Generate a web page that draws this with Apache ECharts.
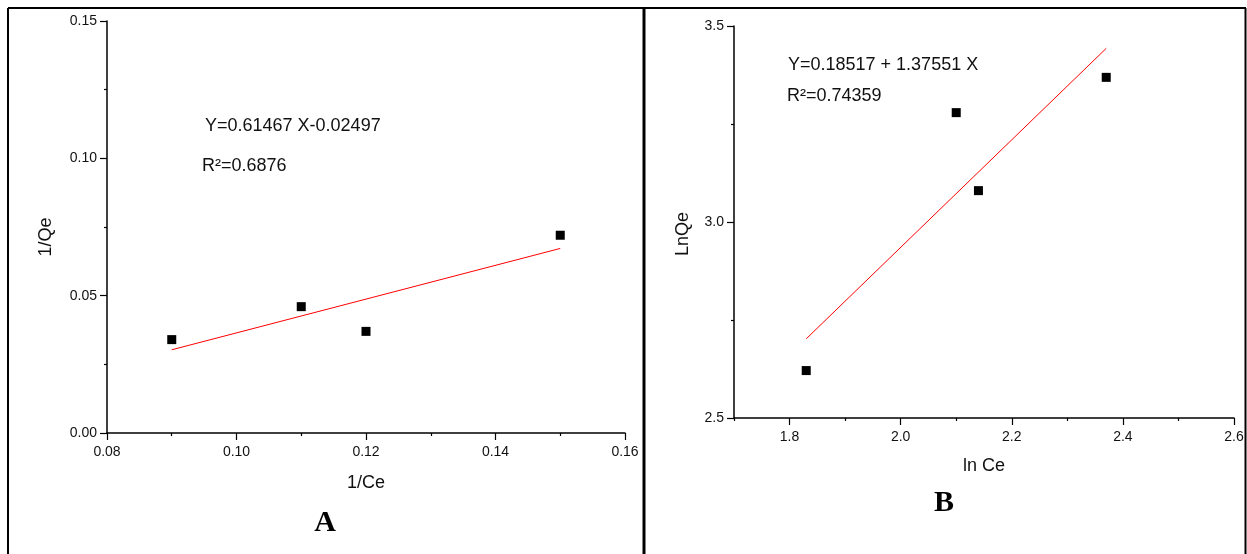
<!DOCTYPE html>
<html>
<head>
<meta charset="utf-8">
<script src="https://cdn.jsdelivr.net/npm/echarts@6/dist/echarts.min.js"></script>
<style>
  html, body { margin: 0; padding: 0; background: #fff; }
  #chart { width: 1247px; height: 554px; }
</style>
</head>
<body>
<div id="chart"></div>
<script>
// panel A: Langmuir (1/Ce vs 1/Qe)
var langX = [0.09, 0.11, 0.12, 0.15];
var langY = [0.034, 0.046, 0.037, 0.072];
var langFitX = [0.09, 0.15];
var langFitY = [0.0303, 0.0672];
var langXTicks = [0.08, 0.10, 0.12, 0.14, 0.16];
var langYTicks = [0.00, 0.05, 0.10, 0.15];

// panel B: Freundlich (ln Ce vs LnQe)
var freuX = [1.83, 2.10, 2.14, 2.37];
var freuY = [2.621, 3.279, 3.080, 3.369];
var freuFitX = [1.83, 2.37];
var freuFitY = [2.702, 3.443];
var freuXTicks = [1.8, 2.0, 2.2, 2.4, 2.6];
var freuXMinor = [1.7, 1.9, 2.1, 2.3, 2.5];
var freuYTicks = [2.5, 3.0, 3.5];

function pairs(xs, ys) {
  return xs.map(function (x, i) { return [x, ys[i]]; });
}

var font = 'Liberation Sans, Arial, sans-serif';
var black = '#000';

var axisBase = {
  axisLine: { show: true, lineStyle: { color: black, width: 1.5 } },
  axisTick: { show: true, length: 7, lineStyle: { color: black, width: 1.2 } },
  minorTick: { show: true, splitNumber: 2, length: 3, lineStyle: { color: black, width: 1.2 } },
  splitLine: { show: false },
  minorSplitLine: { show: false },
  axisLabel: { color: '#111', fontFamily: font, fontSize: 14 },
  nameLocation: 'middle',
  nameTextStyle: { color: '#111', fontFamily: font, fontSize: 18 }
};

function axis(extra) {
  return echarts.util.merge(echarts.util.clone(axisBase), extra, true);
}

var chart = echarts.init(document.getElementById('chart'), null, { renderer: 'canvas' });

var option = {
  animation: false,
  backgroundColor: '#fff',
  grid: [
    { left: 107, top: 21, width: 518, height: 412 },
    { left: 734, top: 26, width: 500, height: 392 }
  ],
  xAxis: [
    axis({
      gridIndex: 0, type: 'value', min: 0.08, max: 0.16, interval: 0.02,
      name: '1/Ce', nameGap: 41,
      axisLabel: { margin: 12, formatter: function (v) { return v.toFixed(2); } }
    }),
    axis({
      gridIndex: 1, type: 'value', min: 1.7, max: 2.6, position: 'bottom',
      name: 'ln Ce', nameGap: 39,
      minorTick: { show: false },
      axisTick: { customValues: freuXTicks },
      axisLabel: { margin: 12, customValues: freuXTicks, formatter: function (v) { return v.toFixed(1); } }
    }),
    axis({
      gridIndex: 1, type: 'value', min: 1.7, max: 2.6, position: 'bottom', offset: 0,
      axisLine: { show: false },
      minorTick: { show: false },
      axisTick: { customValues: freuXMinor, length: 3 },
      axisLabel: { show: false, customValues: freuXMinor }
    })
  ],
  yAxis: [
    axis({
      gridIndex: 0, type: 'value', min: 0, max: 0.15, interval: 0.05,
      name: '1/Qe', nameGap: 52,
      nameTextStyle: { padding: [0, 20, 0, 0] },
      axisLabel: { margin: 10, formatter: function (v) { return v.toFixed(2); } }
    }),
    axis({
      gridIndex: 1, type: 'value', min: 2.5, max: 3.5, interval: 0.5,
      name: 'LnQe', nameGap: 42,
      nameTextStyle: { padding: [0, 24, 0, 0] },
      axisLabel: { margin: 10, formatter: function (v) { return v.toFixed(1); } }
    })
  ],
  series: [
    {
      type: 'scatter', xAxisIndex: 0, yAxisIndex: 0,
      data: pairs(langX, langY),
      symbol: 'rect', symbolSize: 9,
      itemStyle: { color: black, opacity: 1 }
    },
    {
      type: 'line', xAxisIndex: 0, yAxisIndex: 0,
      data: pairs(langFitX, langFitY),
      showSymbol: false, silent: true,
      lineStyle: { color: '#ff0000', width: 1 }
    },
    {
      type: 'scatter', xAxisIndex: 1, yAxisIndex: 1,
      data: pairs(freuX, freuY),
      symbol: 'rect', symbolSize: 9,
      itemStyle: { color: black, opacity: 1 }
    },
    {
      type: 'line', xAxisIndex: 1, yAxisIndex: 1,
      data: pairs(freuFitX, freuFitY),
      showSymbol: false, silent: true,
      lineStyle: { color: '#ff0000', width: 1 }
    }
  ],
  graphic: [
    // frame around the two panels
    { type: 'line', shape: { x1: 8, y1: 8, x2: 1246, y2: 8 }, style: { stroke: black, lineWidth: 2 } },
    { type: 'line', shape: { x1: 8, y1: 8, x2: 8, y2: 554 }, style: { stroke: black, lineWidth: 2 } },
    { type: 'line', shape: { x1: 644, y1: 8, x2: 644, y2: 554 }, style: { stroke: black, lineWidth: 3 } },
    { type: 'line', shape: { x1: 1245.5, y1: 8, x2: 1245.5, y2: 554 }, style: { stroke: black, lineWidth: 2 } },
    // fit equations
    { type: 'text', x: 205, y: 126, style: { text: 'Y=0.61467 X-0.02497', font: '18px ' + font, fill: '#111', textVerticalAlign: 'middle', verticalAlign: 'middle' } },
    { type: 'text', x: 202, y: 166, style: { text: 'R²=0.6876', font: '18px ' + font, fill: '#111', textVerticalAlign: 'middle', verticalAlign: 'middle' } },
    { type: 'text', x: 788, y: 65, style: { text: 'Y=0.18517 + 1.37551 X', font: '18px ' + font, fill: '#111', textVerticalAlign: 'middle', verticalAlign: 'middle' } },
    { type: 'text', x: 787, y: 96, style: { text: 'R²=0.74359', font: '18px ' + font, fill: '#111', textVerticalAlign: 'middle', verticalAlign: 'middle' } },
    // panel letters
    { type: 'text', x: 325, y: 523, style: { text: 'A', font: 'bold 30px Liberation Serif, Times New Roman, serif', fill: black, textAlign: 'center', align: 'center', textVerticalAlign: 'middle', verticalAlign: 'middle' } },
    { type: 'text', x: 944, y: 503, style: { text: 'B', font: 'bold 30px Liberation Serif, Times New Roman, serif', fill: black, textAlign: 'center', align: 'center', textVerticalAlign: 'middle', verticalAlign: 'middle' } }
  ]
};

chart.setOption(option);
</script>
</body>
</html>
